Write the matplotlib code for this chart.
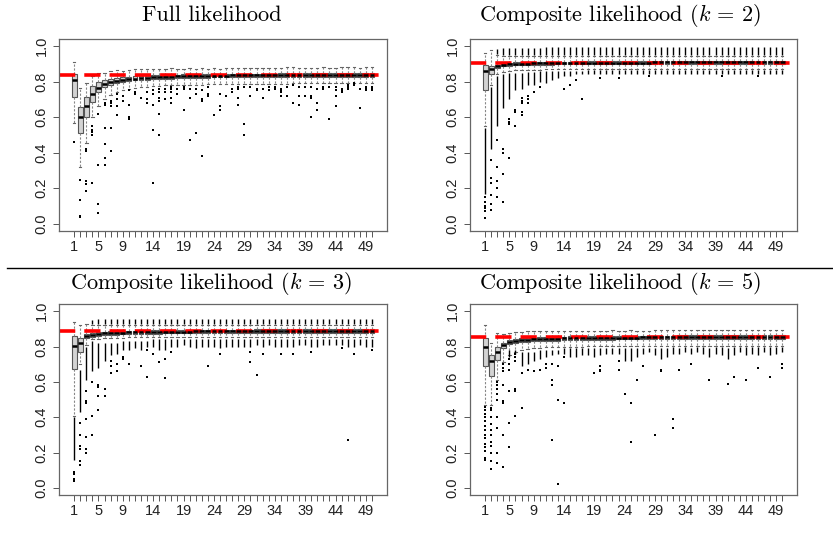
import matplotlib
matplotlib.use('Agg')
import matplotlib.pyplot as plt
from matplotlib.lines import Line2D

plt.rcParams['mathtext.fontset'] = 'cm'
plt.rcParams['font.family'] = ['Liberation Sans', 'DejaVu Sans']

boxes = list(range(1, 51))
shown = [1, 5, 9, 14, 19, 24, 29, 34, 39, 44, 49]
yticks = [0.0, 0.2, 0.4, 0.6, 0.8, 1.0]
titles = ['Full likelihood',
          'Composite likelihood ($k$ = 2)',
          'Composite likelihood ($k$ = 3)',
          'Composite likelihood ($k$ = 5)']
truth = [0.835, 0.905, 0.889, 0.855]

# ---- Full likelihood
p1_med = [0.809, 0.603, 0.663, 0.730, 0.766, 0.788, 0.798, 0.805, 0.810, 0.814,
          0.817, 0.819, 0.821, 0.823, 0.825, 0.826, 0.828, 0.829, 0.830, 0.830,
          0.831, 0.832, 0.832, 0.833, 0.833, 0.833, 0.834, 0.834, 0.834, 0.834,
          0.835, 0.835, 0.835, 0.835, 0.836, 0.836, 0.836, 0.836, 0.836, 0.837,
          0.837, 0.837, 0.837, 0.837, 0.838, 0.838, 0.838, 0.838, 0.838, 0.838]
p1_q1 = [0.715, 0.513, 0.603, 0.687, 0.743, 0.768, 0.782, 0.790, 0.797, 0.802,
         0.806, 0.808, 0.810, 0.812, 0.814, 0.815, 0.817, 0.818, 0.819, 0.820,
         0.821, 0.822, 0.822, 0.823, 0.823, 0.823, 0.824, 0.824, 0.824, 0.824,
         0.825, 0.825, 0.825, 0.825, 0.826, 0.826, 0.826, 0.826, 0.826, 0.827,
         0.827, 0.827, 0.827, 0.827, 0.828, 0.828, 0.828, 0.828, 0.828, 0.828]
p1_q3 = [0.843, 0.659, 0.715, 0.775, 0.800, 0.810, 0.817, 0.821, 0.824, 0.827,
         0.829, 0.831, 0.833, 0.834, 0.836, 0.837, 0.838, 0.839, 0.840, 0.840,
         0.841, 0.842, 0.842, 0.843, 0.843, 0.843, 0.844, 0.844, 0.844, 0.844,
         0.845, 0.845, 0.845, 0.845, 0.846, 0.846, 0.846, 0.846, 0.846, 0.847,
         0.847, 0.847, 0.847, 0.847, 0.848, 0.848, 0.848, 0.848, 0.848, 0.848]
p1_hi = [0.912, 0.762, 0.790, 0.833, 0.846, 0.850, 0.858, 0.865, 0.860, 0.864,
         0.872, 0.870, 0.868, 0.872, 0.870, 0.872, 0.874, 0.870, 0.872, 0.878,
         0.872, 0.874, 0.873, 0.876, 0.872, 0.874, 0.876, 0.874, 0.876, 0.878,
         0.876, 0.876, 0.877, 0.876, 0.878, 0.880, 0.880, 0.878, 0.877, 0.878,
         0.877, 0.879, 0.878, 0.878, 0.879, 0.880, 0.879, 0.878, 0.880, 0.879]
p1_lo = [0.566, 0.322, 0.453, 0.600, 0.660, 0.700, 0.725, 0.740, 0.750, 0.760,
         0.765, 0.770, 0.772, 0.775, 0.776, 0.778, 0.779, 0.780, 0.781, 0.782,
         0.782, 0.783, 0.784, 0.784, 0.785, 0.785, 0.786, 0.786, 0.786, 0.787,
         0.787, 0.787, 0.788, 0.788, 0.788, 0.788, 0.789, 0.789, 0.789, 0.789,
         0.790, 0.790, 0.790, 0.790, 0.790, 0.791, 0.791, 0.791, 0.791, 0.791]
p1_out = {1: [0.459], 2: [0.247, 0.135, 0.045, 0.04], 3: [0.42, 0.415, 0.41, 0.238, 0.225, 0.185],
          4: [0.55, 0.53, 0.515, 0.50, 0.228], 5: [0.62, 0.33, 0.11, 0.06],
          6: [0.68, 0.67, 0.54, 0.45, 0.37, 0.33], 7: [0.69, 0.68, 0.665, 0.54, 0.41],
          8: [0.73, 0.70, 0.66, 0.61], 9: [0.72, 0.69], 10: [0.75, 0.67, 0.60, 0.59],
          11: [0.74, 0.73], 12: [0.71], 13: [0.74, 0.70, 0.68], 14: [0.75, 0.73, 0.67, 0.53, 0.23],
          15: [0.76, 0.74, 0.71, 0.69, 0.62, 0.50], 16: [0.76, 0.74, 0.70],
          17: [0.77, 0.76, 0.74, 0.71, 0.68], 18: [0.76, 0.73], 19: [0.77, 0.76, 0.64],
          20: [0.76, 0.71, 0.47], 21: [0.76, 0.73, 0.51], 22: [0.75, 0.70, 0.69, 0.38],
          23: [0.77, 0.73, 0.72], 24: [0.61], 25: [0.73, 0.66, 0.64], 26: [0.72],
          27: [0.76, 0.74], 28: [0.77, 0.76, 0.71, 0.67], 29: [0.77, 0.56, 0.50],
          30: [0.77, 0.72], 31: [0.76, 0.75], 32: [0.76, 0.71], 33: [0.77, 0.75],
          34: [0.77, 0.76], 35: [0.76, 0.75, 0.74, 0.72], 36: [0.77, 0.72], 37: [0.78, 0.68],
          38: [0.77, 0.72, 0.67], 39: [0.77, 0.72], 40: [0.77, 0.72, 0.71, 0.60],
          41: [0.76, 0.68, 0.64], 42: [0.77, 0.76], 43: [0.77, 0.59], 44: [0.77, 0.75, 0.72, 0.66],
          45: [0.76, 0.75, 0.74], 46: [0.78, 0.77, 0.76], 47: [0.79, 0.78], 48: [0.76, 0.65],
          49: [0.77, 0.76, 0.75], 50: [0.77, 0.76, 0.75]}
p1_runs = {}

# ---- Composite likelihood k = 2
p2_med = [0.860, 0.868, 0.885, 0.893, 0.897, 0.899, 0.900, 0.901, 0.902, 0.902,
          0.903, 0.903, 0.904, 0.904, 0.904, 0.905, 0.905, 0.905, 0.905, 0.905,
          0.906, 0.906, 0.906, 0.906, 0.906, 0.906, 0.906, 0.906, 0.907, 0.907,
          0.907, 0.907, 0.907, 0.907, 0.907, 0.907, 0.907, 0.907, 0.907, 0.907,
          0.907, 0.907, 0.907, 0.907, 0.907, 0.907, 0.907, 0.907, 0.907, 0.907]
p2_q1 = [0.753, 0.845, 0.875, 0.885, 0.889, 0.891, 0.892, 0.893, 0.894, 0.894,
         0.895, 0.895, 0.896, 0.896, 0.896, 0.897, 0.897, 0.897, 0.897, 0.897,
         0.898, 0.898, 0.898, 0.898, 0.898, 0.898, 0.898, 0.898, 0.899, 0.899,
         0.899, 0.899, 0.899, 0.899, 0.899, 0.899, 0.899, 0.899, 0.899, 0.899,
         0.899, 0.899, 0.899, 0.899, 0.899, 0.899, 0.899, 0.899, 0.899, 0.899]
p2_q3 = [0.893, 0.889, 0.895, 0.901, 0.905, 0.907, 0.908, 0.909, 0.910, 0.910,
         0.911, 0.911, 0.912, 0.912, 0.912, 0.913, 0.913, 0.913, 0.913, 0.913,
         0.914, 0.914, 0.914, 0.914, 0.914, 0.914, 0.914, 0.914, 0.915, 0.915,
         0.915, 0.915, 0.915, 0.915, 0.915, 0.915, 0.915, 0.915, 0.915, 0.915,
         0.915, 0.915, 0.915, 0.915, 0.915, 0.915, 0.915, 0.915, 0.915, 0.915]
p2_hi = [0.960, 0.975, 0.950, 0.945, 0.943, 0.942, 0.942, 0.943, 0.943, 0.944,
         0.944, 0.944, 0.944, 0.945, 0.945, 0.945, 0.945, 0.945, 0.945, 0.945,
         0.945, 0.945, 0.945, 0.945, 0.945, 0.945, 0.945, 0.945, 0.945, 0.945,
         0.945, 0.945, 0.945, 0.945, 0.945, 0.945, 0.945, 0.945, 0.945, 0.945,
         0.945, 0.945, 0.945, 0.945, 0.945, 0.945, 0.945, 0.945, 0.945, 0.945]
p2_lo = [0.550, 0.780, 0.845, 0.855, 0.860, 0.862, 0.864, 0.865, 0.866, 0.867,
         0.868, 0.868, 0.869, 0.869, 0.870, 0.870, 0.870, 0.870, 0.871, 0.871,
         0.871, 0.871, 0.871, 0.871, 0.872, 0.872, 0.872, 0.872, 0.872, 0.872,
         0.872, 0.872, 0.872, 0.872, 0.872, 0.872, 0.872, 0.872, 0.872, 0.872,
         0.872, 0.872, 0.872, 0.872, 0.872, 0.872, 0.872, 0.872, 0.872, 0.872]
p2_out = {1: [0.15, 0.12, 0.10, 0.09, 0.07, 0.03], 2: [0.36, 0.26, 0.23, 0.16, 0.11, 0.08],
          3: [0.47, 0.32, 0.24, 0.20, 0.15], 4: [0.42, 0.40, 0.28, 0.12],
          5: [0.59, 0.57, 0.56, 0.37], 6: [0.64, 0.63, 0.55], 7: [0.71, 0.69, 0.68, 0.63, 0.61],
          8: [0.72, 0.70, 0.68], 9: [0.74], 10: [0.77], 14: [0.76], 15: [0.78], 16: [0.81],
          17: [0.70], 20: [0.82], 23: [0.82], 28: [0.83], 40: [0.83], 46: [0.83]}
p2_runs = {1: [(0.17, 0.54)], 2: [(0.42, 0.77)], 3: [(0.55, 0.83), (0.955, 0.985)],
           4: [(0.65, 0.84), (0.95, 0.99)], 5: [(0.70, 0.85), (0.95, 0.99)],
           6: [(0.75, 0.85), (0.95, 0.99)], 7: [(0.76, 0.85), (0.95, 0.99)],
           8: [(0.78, 0.855), (0.95, 0.99)], 9: [(0.78, 0.855), (0.95, 0.99)],
           10: [(0.80, 0.86), (0.95, 0.99)], 11: [(0.79, 0.86), (0.95, 0.995)],
           12: [(0.81, 0.86), (0.95, 0.995)], 13: [(0.82, 0.86), (0.95, 0.995)],
           14: [(0.83, 0.86), (0.95, 0.995)], 15: [(0.83, 0.86), (0.95, 0.995)],
           16: [(0.84, 0.86), (0.95, 0.995)], 17: [(0.84, 0.86), (0.95, 0.995)],
           18: [(0.84, 0.865), (0.95, 0.995)], 19: [(0.84, 0.865), (0.95, 0.995)],
           20: [(0.845, 0.865), (0.95, 0.995)], 21: [(0.84, 0.865), (0.95, 0.995)],
           22: [(0.845, 0.865), (0.95, 0.995)], 23: [(0.84, 0.865), (0.95, 0.995)],
           24: [(0.845, 0.865), (0.95, 0.995)], 25: [(0.845, 0.865), (0.95, 0.995)],
           26: [(0.84, 0.865), (0.95, 0.995)], 27: [(0.845, 0.865), (0.95, 0.995)],
           28: [(0.845, 0.865), (0.95, 0.995)], 29: [(0.84, 0.865), (0.95, 0.995)],
           30: [(0.84, 0.865), (0.95, 0.995)], 31: [(0.845, 0.865), (0.95, 0.995)],
           32: [(0.845, 0.865), (0.95, 0.995)], 33: [(0.84, 0.865), (0.95, 0.995)],
           34: [(0.845, 0.865), (0.95, 0.995)], 35: [(0.845, 0.865), (0.95, 0.995)],
           36: [(0.84, 0.865), (0.95, 0.995)], 37: [(0.845, 0.865), (0.95, 0.995)],
           38: [(0.845, 0.865), (0.95, 0.995)], 39: [(0.845, 0.865), (0.95, 0.995)],
           40: [(0.84, 0.865), (0.95, 0.995)], 41: [(0.845, 0.865), (0.95, 0.995)],
           42: [(0.845, 0.865), (0.95, 0.995)], 43: [(0.845, 0.865), (0.95, 0.995)],
           44: [(0.84, 0.865), (0.95, 0.995)], 45: [(0.845, 0.865), (0.95, 0.995)],
           46: [(0.845, 0.865), (0.95, 0.995)], 47: [(0.84, 0.865), (0.95, 0.995)],
           48: [(0.845, 0.865), (0.95, 0.995)], 49: [(0.845, 0.865), (0.95, 0.995)],
           50: [(0.845, 0.865), (0.95, 0.995)]}

# ---- Composite likelihood k = 3
p3_med = [0.805, 0.818, 0.860, 0.866, 0.872, 0.875, 0.877, 0.878, 0.879, 0.880,
          0.881, 0.882, 0.882, 0.883, 0.883, 0.884, 0.884, 0.885, 0.885, 0.885,
          0.886, 0.886, 0.886, 0.886, 0.887, 0.887, 0.887, 0.887, 0.887, 0.887,
          0.888, 0.888, 0.888, 0.888, 0.888, 0.888, 0.888, 0.888, 0.888, 0.888,
          0.888, 0.888, 0.888, 0.888, 0.888, 0.888, 0.888, 0.888, 0.888, 0.888]
p3_q1 = [0.673, 0.771, 0.847, 0.855, 0.862, 0.865, 0.867, 0.868, 0.869, 0.870,
         0.871, 0.872, 0.872, 0.873, 0.873, 0.874, 0.874, 0.875, 0.875, 0.875,
         0.876, 0.876, 0.876, 0.876, 0.877, 0.877, 0.877, 0.877, 0.877, 0.877,
         0.878, 0.878, 0.878, 0.878, 0.878, 0.878, 0.878, 0.878, 0.878, 0.878,
         0.878, 0.878, 0.878, 0.878, 0.878, 0.878, 0.878, 0.878, 0.878, 0.878]
p3_q3 = [0.859, 0.846, 0.872, 0.877, 0.881, 0.884, 0.886, 0.887, 0.888, 0.889,
         0.890, 0.891, 0.891, 0.892, 0.892, 0.893, 0.893, 0.894, 0.894, 0.894,
         0.895, 0.895, 0.895, 0.895, 0.896, 0.896, 0.896, 0.896, 0.896, 0.896,
         0.897, 0.897, 0.897, 0.897, 0.897, 0.897, 0.897, 0.897, 0.897, 0.897,
         0.897, 0.897, 0.897, 0.897, 0.897, 0.897, 0.897, 0.897, 0.897, 0.897]
p3_hi = [0.940, 0.920, 0.930, 0.922, 0.920, 0.920, 0.920, 0.920, 0.920, 0.920,
         0.920, 0.920, 0.920, 0.920, 0.920, 0.920, 0.920, 0.920, 0.920, 0.920,
         0.920, 0.920, 0.920, 0.920, 0.920, 0.920, 0.920, 0.920, 0.920, 0.920,
         0.920, 0.920, 0.920, 0.920, 0.920, 0.920, 0.920, 0.920, 0.920, 0.920,
         0.920, 0.920, 0.920, 0.920, 0.920, 0.920, 0.920, 0.920, 0.920, 0.920]
p3_lo = [0.410, 0.700, 0.810, 0.840, 0.845, 0.848, 0.850, 0.850, 0.851, 0.852,
         0.852, 0.853, 0.853, 0.853, 0.854, 0.854, 0.854, 0.855, 0.855, 0.855,
         0.855, 0.855, 0.855, 0.855, 0.856, 0.856, 0.856, 0.856, 0.856, 0.856,
         0.856, 0.856, 0.856, 0.856, 0.856, 0.856, 0.856, 0.856, 0.856, 0.856,
         0.856, 0.856, 0.856, 0.856, 0.856, 0.856, 0.856, 0.856, 0.856, 0.856]
p3_out = {1: [0.09, 0.08, 0.05, 0.04], 2: [0.37, 0.30, 0.24, 0.22, 0.15, 0.13],
          3: [0.55, 0.49, 0.48, 0.39, 0.29, 0.22, 0.20], 4: [0.60, 0.41, 0.30],
          5: [0.58, 0.57, 0.52, 0.44], 6: [0.56, 0.52], 7: [0.72, 0.69, 0.65],
          8: [0.70, 0.66], 9: [0.74, 0.73], 10: [0.70], 12: [0.69], 13: [0.78, 0.63],
          14: [0.76], 15: [0.71], 16: [0.73, 0.62], 17: [0.77], 23: [0.69], 25: [0.76],
          30: [0.77, 0.71], 31: [0.64], 32: [0.76], 35: [0.76], 37: [0.76], 40: [0.77],
          45: [0.79], 46: [0.27], 47: [0.76], 50: [0.78]}
p3_runs = {1: [(0.16, 0.40)], 2: [(0.43, 0.67)], 3: [(0.61, 0.80)],
           4: [(0.66, 0.83), (0.93, 0.95)], 5: [(0.68, 0.82), (0.93, 0.955)],
           6: [(0.72, 0.82), (0.93, 0.955)], 7: [(0.75, 0.82), (0.93, 0.958)],
           8: [(0.76, 0.82), (0.93, 0.955)], 9: [(0.78, 0.83), (0.93, 0.955)],
           10: [(0.78, 0.83), (0.93, 0.955)], 11: [(0.79, 0.83), (0.93, 0.955)],
           12: [(0.78, 0.83), (0.93, 0.955)], 13: [(0.80, 0.83), (0.93, 0.955)],
           14: [(0.80, 0.84), (0.93, 0.955)], 15: [(0.78, 0.84), (0.93, 0.958)],
           16: [(0.78, 0.84), (0.93, 0.955)], 17: [(0.80, 0.84), (0.93, 0.955)],
           18: [(0.80, 0.84), (0.93, 0.955)], 19: [(0.81, 0.84), (0.93, 0.955)],
           20: [(0.80, 0.84), (0.93, 0.955)], 21: [(0.79, 0.84), (0.93, 0.955)],
           22: [(0.80, 0.84), (0.93, 0.955)], 23: [(0.80, 0.84), (0.93, 0.955)],
           24: [(0.80, 0.84), (0.93, 0.958)], 25: [(0.79, 0.84), (0.93, 0.955)],
           26: [(0.80, 0.84), (0.93, 0.955)], 27: [(0.80, 0.84), (0.93, 0.955)],
           28: [(0.80, 0.84), (0.93, 0.955)], 29: [(0.80, 0.84), (0.93, 0.958)],
           30: [(0.80, 0.84), (0.93, 0.955)], 31: [(0.81, 0.84), (0.93, 0.955)],
           32: [(0.80, 0.84), (0.93, 0.958)], 33: [(0.81, 0.84), (0.93, 0.955)],
           34: [(0.80, 0.84), (0.93, 0.955)], 35: [(0.80, 0.84), (0.93, 0.955)],
           36: [(0.80, 0.84), (0.93, 0.955)], 37: [(0.80, 0.84), (0.93, 0.955)],
           38: [(0.81, 0.84), (0.93, 0.955)], 39: [(0.81, 0.84), (0.93, 0.955)],
           40: [(0.80, 0.84), (0.93, 0.955)], 41: [(0.80, 0.84), (0.93, 0.955)],
           42: [(0.81, 0.84), (0.93, 0.955)], 43: [(0.81, 0.84), (0.93, 0.955)],
           44: [(0.81, 0.84), (0.93, 0.955)], 45: [(0.81, 0.84), (0.93, 0.958)],
           46: [(0.80, 0.84), (0.93, 0.958)], 47: [(0.80, 0.84), (0.93, 0.955)],
           48: [(0.81, 0.84), (0.93, 0.955)], 49: [(0.80, 0.84), (0.93, 0.958)],
           50: [(0.80, 0.84), (0.93, 0.958)]}

# ---- Composite likelihood k = 5
p4_med = [0.795, 0.720, 0.770, 0.810, 0.826, 0.832, 0.836, 0.838, 0.840, 0.842,
          0.843, 0.844, 0.845, 0.846, 0.847, 0.848, 0.848, 0.849, 0.849, 0.850,
          0.850, 0.850, 0.851, 0.851, 0.851, 0.851, 0.852, 0.852, 0.852, 0.852,
          0.852, 0.852, 0.853, 0.853, 0.853, 0.853, 0.853, 0.853, 0.853, 0.853,
          0.853, 0.853, 0.853, 0.853, 0.853, 0.853, 0.853, 0.853, 0.853, 0.853]
p4_q1 = [0.688, 0.634, 0.722, 0.790, 0.812, 0.820, 0.825, 0.827, 0.829, 0.831,
         0.832, 0.833, 0.834, 0.835, 0.836, 0.837, 0.837, 0.838, 0.838, 0.839,
         0.839, 0.839, 0.840, 0.840, 0.840, 0.840, 0.841, 0.841, 0.841, 0.841,
         0.841, 0.841, 0.842, 0.842, 0.842, 0.842, 0.842, 0.842, 0.842, 0.842,
         0.842, 0.842, 0.842, 0.842, 0.842, 0.842, 0.842, 0.842, 0.842, 0.842]
p4_q3 = [0.846, 0.752, 0.797, 0.822, 0.836, 0.843, 0.846, 0.848, 0.850, 0.852,
         0.853, 0.854, 0.855, 0.856, 0.857, 0.858, 0.858, 0.859, 0.859, 0.860,
         0.860, 0.860, 0.861, 0.861, 0.861, 0.861, 0.862, 0.862, 0.862, 0.862,
         0.862, 0.862, 0.863, 0.863, 0.863, 0.863, 0.863, 0.863, 0.863, 0.863,
         0.863, 0.863, 0.863, 0.863, 0.863, 0.863, 0.863, 0.863, 0.863, 0.863]
p4_hi = [0.920, 0.820, 0.874, 0.870, 0.878, 0.885, 0.885, 0.886, 0.886, 0.887,
         0.887, 0.888, 0.888, 0.888, 0.889, 0.889, 0.889, 0.889, 0.890, 0.890,
         0.890, 0.895, 0.890, 0.890, 0.893, 0.890, 0.890, 0.890, 0.891, 0.891,
         0.891, 0.891, 0.891, 0.891, 0.891, 0.891, 0.891, 0.891, 0.891, 0.891,
         0.891, 0.891, 0.891, 0.891, 0.891, 0.891, 0.891, 0.891, 0.891, 0.891]
p4_lo = [0.470, 0.470, 0.610, 0.710, 0.750, 0.770, 0.780, 0.785, 0.790, 0.793,
         0.795, 0.796, 0.797, 0.798, 0.799, 0.800, 0.800, 0.801, 0.801, 0.802,
         0.802, 0.802, 0.803, 0.803, 0.803, 0.803, 0.803, 0.804, 0.804, 0.804,
         0.804, 0.804, 0.804, 0.804, 0.804, 0.804, 0.805, 0.805, 0.805, 0.805,
         0.805, 0.805, 0.805, 0.805, 0.805, 0.805, 0.805, 0.805, 0.805, 0.805]
p4_out = {1: [0.46, 0.44, 0.42, 0.40, 0.38, 0.35, 0.33, 0.30, 0.28, 0.25, 0.23, 0.21, 0.17, 0.16],
          2: [0.45, 0.44, 0.40, 0.36, 0.33, 0.30, 0.26, 0.24, 0.20, 0.15, 0.11],
          3: [0.60, 0.58, 0.56, 0.53, 0.50, 0.40, 0.34, 0.20, 0.14],
          4: [0.70, 0.68, 0.66, 0.58, 0.49, 0.48, 0.30, 0.12],
          5: [0.73, 0.70, 0.67, 0.55, 0.37, 0.23], 6: [0.76, 0.74, 0.72, 0.56, 0.55, 0.41],
          7: [0.65, 0.45], 8: [0.67], 9: [0.66], 10: [0.67], 11: [0.70, 0.68],
          12: [0.70, 0.61, 0.58, 0.27], 13: [0.69, 0.50, 0.02], 14: [0.74, 0.48],
          19: [0.65], 20: [0.69, 0.67, 0.66], 23: [0.72, 0.67], 24: [0.53],
          25: [0.48, 0.26], 26: [0.61], 27: [0.69], 29: [0.30], 30: [0.67, 0.66],
          32: [0.39, 0.34], 33: [0.67], 35: [0.70], 38: [0.61], 41: [0.59, 0.59],
          42: [0.63], 44: [0.61], 46: [0.68], 48: [0.63], 50: [0.70, 0.68]}
p4_runs = {5: [(0.74, 0.78)], 6: [(0.76, 0.78)], 7: [(0.69, 0.77)], 8: [(0.70, 0.77)],
           9: [(0.72, 0.77)], 10: [(0.73, 0.78)], 11: [(0.74, 0.78)], 12: [(0.75, 0.78)],
           13: [(0.76, 0.78)], 14: [(0.76, 0.79)], 15: [(0.74, 0.79)], 16: [(0.74, 0.79)],
           17: [(0.75, 0.79)], 18: [(0.75, 0.79)], 19: [(0.74, 0.79)], 20: [(0.75, 0.79)],
           21: [(0.76, 0.79)], 22: [(0.76, 0.79)], 23: [(0.76, 0.79)], 24: [(0.72, 0.79)],
           25: [(0.72, 0.79)], 26: [(0.74, 0.79)], 27: [(0.76, 0.79)], 28: [(0.77, 0.79)],
           29: [(0.75, 0.79)], 30: [(0.73, 0.79)], 31: [(0.74, 0.79)], 32: [(0.76, 0.80)],
           33: [(0.76, 0.79)], 34: [(0.77, 0.80)], 35: [(0.76, 0.79)], 36: [(0.77, 0.80)],
           37: [(0.76, 0.80)], 38: [(0.74, 0.79)], 39: [(0.76, 0.80)], 40: [(0.75, 0.80)],
           41: [(0.73, 0.79)], 42: [(0.75, 0.80)], 43: [(0.77, 0.80)], 44: [(0.75, 0.80)],
           45: [(0.76, 0.80)], 46: [(0.75, 0.80)], 47: [(0.77, 0.80)], 48: [(0.75, 0.80)],
           49: [(0.76, 0.80)], 50: [(0.77, 0.80)]}

panels = [
    (p1_med, p1_q1, p1_q3, p1_lo, p1_hi, p1_out, p1_runs),
    (p2_med, p2_q1, p2_q3, p2_lo, p2_hi, p2_out, p2_runs),
    (p3_med, p3_q1, p3_q3, p3_lo, p3_hi, p3_out, p3_runs),
    (p4_med, p4_q1, p4_q3, p4_lo, p4_hi, p4_out, p4_runs),
]

# axes rectangles in figure fractions (left, bottom, width, height)
rects = [(0.0708, 0.584, 0.394, 0.346), (0.5642, 0.584, 0.393, 0.346),
         (0.0708, 0.108, 0.394, 0.344), (0.5642, 0.108, 0.393, 0.344)]
title_xy = [(0.254, 0.972), (0.745, 0.972), (0.254, 0.49), (0.745, 0.49)]

fig = plt.figure(figsize=(8.33, 5.55), dpi=100)

for i, (med, q1, q3, lo, hi, out, runs) in enumerate(panels):
    ax = fig.add_axes(rects[i])
    stats = []
    for j in range(len(boxes)):
        stats.append({'med': med[j], 'q1': q1[j], 'q3': q3[j],
                      'whislo': lo[j], 'whishi': hi[j], 'fliers': []})
    ax.bxp(stats, positions=boxes, widths=0.8, capwidths=0.4, patch_artist=True,
           showfliers=False,
           boxprops=dict(facecolor='#d3d3d3', edgecolor='#555555', linewidth=0.8),
           medianprops=dict(color='black', linewidth=1.8),
           whiskerprops=dict(color='#888888', linestyle=(0, (2, 1.5)), linewidth=0.8),
           capprops=dict(color='#666666', linewidth=0.8))
    for b, vals in runs.items():
        for (a, c) in vals:
            ax.vlines(b, a, c, color='black', linewidth=1.0)
    xs, ys = [], []
    for b, vals in out.items():
        xs += [b] * len(vals)
        ys += vals
    ax.plot(xs, ys, 's', color='black', markersize=1.7, markeredgewidth=0)
    ax.axhline(truth[i], color='red', linewidth=2.6, linestyle=(0, (4.5, 2.5)))

    ax.set_xlim(-1.5, 52.5)
    ax.set_ylim(-0.04, 1.04)
    ax.set_xticks(boxes)
    ax.set_xticklabels([str(b) if b in shown else '' for b in boxes])
    ax.set_yticks(yticks)
    ax.set_yticklabels(['%.1f' % v for v in yticks], rotation=90, va='center')
    ax.tick_params(axis='both', length=4.5, width=0.7, color='#555555',
                   labelsize=10.5, labelcolor='#222222', pad=3)
    ax.tick_params(axis='x', pad=2)
    for s in ax.spines.values():
        s.set_color('#666666')
        s.set_linewidth(0.9)

    fig.text(title_xy[i][0], title_xy[i][1], titles[i], ha='center', va='center',
             fontsize=16, family='cmr10')

fig.add_artist(Line2D([7 / 833, 1.0], [1 - 268 / 555, 1 - 268 / 555],
                      color='black', linewidth=1.0))

fig.savefig('out.png', dpi=100)
